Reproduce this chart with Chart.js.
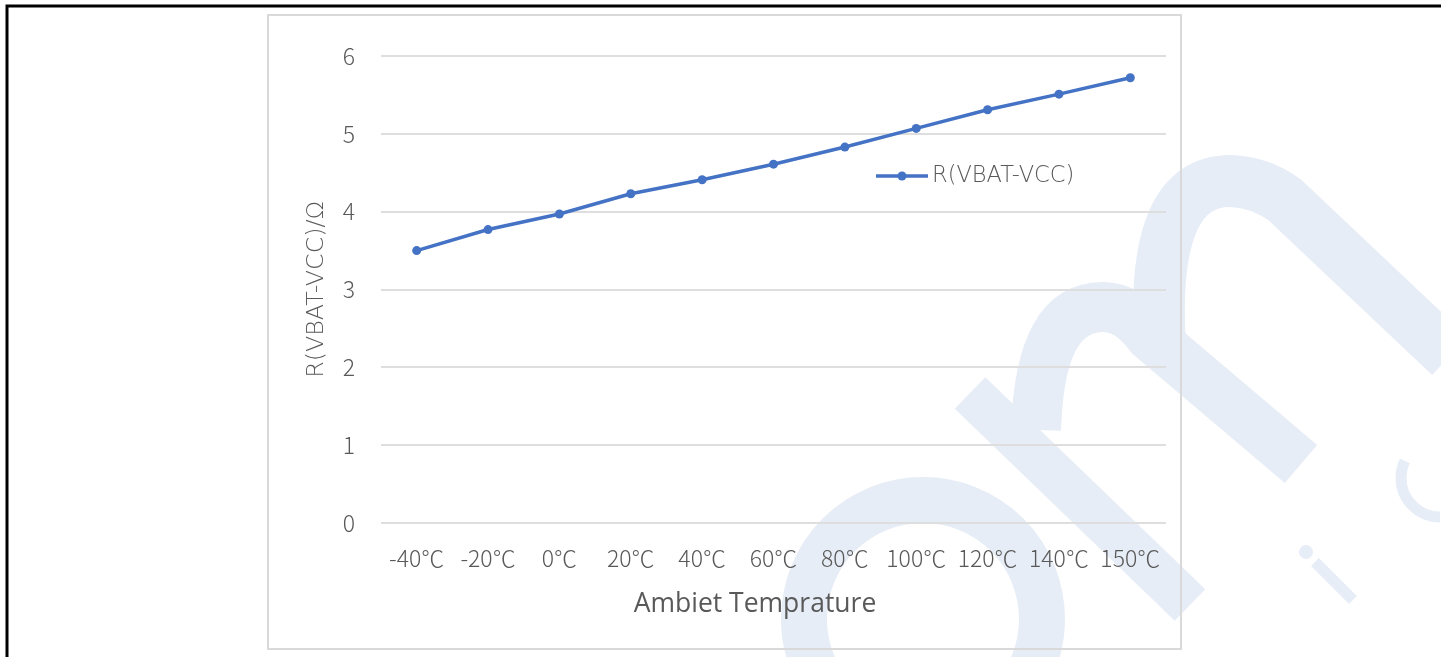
<!DOCTYPE html>
<html>
<head>
<meta charset="utf-8">
<script src="https://cdn.jsdelivr.net/npm/chart.js@4"></script>
<style>
  html, body { margin: 0; padding: 0; background: #fff; }
  canvas { display: block; }
</style>
</head>
<body>
<canvas id="chart" width="1441" height="657"></canvas>
<script>
// data
const temps = ["-40℃", "-20℃", "0℃", "20℃", "40℃", "60℃", "80℃", "100℃", "120℃", "140℃", "150℃"];
const resistance = [3.5, 3.77, 3.97, 4.23, 4.41, 4.61, 4.83, 5.07, 5.31, 5.51, 5.72];
const seriesName = "R(VBAT-VCC)";
const xTitle = "Ambiet Temprature";
const yTitle = "R(VBAT-VCC)/Ω";
const yMin = 0, yMax = 6, yStep = 1;

const tickFont = { family: "'Noto Sans CJK SC', 'Noto Sans', sans-serif", size: 23, weight: 300 };
const labelFont = "'DejaVu Sans', 'Noto Sans', sans-serif";
const gray = "#595959";
const blue = "#4472c4";
const wm = "rgb(231,237,246)";

// page background, watermark and frames
const framePlugin = {
  id: "frame",
  beforeDraw(chart) {
    const ctx = chart.ctx;
    ctx.save();
    ctx.fillStyle = "#fff";
    ctx.fillRect(0, 0, chart.width, chart.height);

    // watermark
    ctx.strokeStyle = wm;
    ctx.fillStyle = wm;
    ctx.lineCap = "butt";
    ctx.lineWidth = 46;
    ctx.beginPath();
    ctx.arc(923, 619, 119, 0, Math.PI * 2);
    ctx.stroke();

    ctx.lineWidth = 44;
    ctx.beginPath();
    ctx.moveTo(970, 393);
    ctx.lineTo(1190, 605);
    ctx.stroke();

    ctx.lineWidth = 50;
    ctx.beginPath();
    ctx.moveTo(1036, 430);
    ctx.quadraticCurveTo(1040, 305, 1104, 307);
    ctx.quadraticCurveTo(1130, 308, 1150, 336);
    ctx.lineTo(1301, 464);
    ctx.stroke();

    ctx.lineWidth = 52;
    ctx.beginPath();
    ctx.moveTo(1160, 345);
    ctx.quadraticCurveTo(1150, 180, 1231, 181);
    ctx.quadraticCurveTo(1260, 182, 1285, 200);
    ctx.lineTo(1450, 356);
    ctx.stroke();

    ctx.beginPath();
    ctx.arc(1306, 552, 7, 0, Math.PI * 2);
    ctx.fill();
    ctx.lineWidth = 11;
    ctx.beginPath();
    ctx.moveTo(1315, 562);
    ctx.lineTo(1353, 600);
    ctx.stroke();

    ctx.lineWidth = 11;
    ctx.beginPath();
    ctx.arc(1440, 478, 39, Math.PI / 2, 206 * Math.PI / 180);
    ctx.stroke();

    // chart frame
    ctx.strokeStyle = "#d9d9d9";
    ctx.lineWidth = 2;
    ctx.strokeRect(268, 15, 913, 634);

    // outer page border
    ctx.strokeStyle = "#000";
    ctx.lineWidth = 3;
    ctx.beginPath();
    ctx.moveTo(7, 700);
    ctx.lineTo(7, 6);
    ctx.lineTo(1500, 6);
    ctx.stroke();
    ctx.restore();
  },
  afterDraw(chart) {
    const ds = chart.data.datasets[0];
    const ctx = chart.ctx;
    ctx.save();
    // legend inside plot
    const y = 176;
    ctx.strokeStyle = ds.borderColor;
    ctx.lineWidth = 3.5;
    ctx.beginPath();
    ctx.moveTo(876, y);
    ctx.lineTo(928, y);
    ctx.stroke();
    ctx.fillStyle = ds.borderColor;
    ctx.beginPath();
    ctx.arc(902, y, 4.5, 0, Math.PI * 2);
    ctx.fill();
    ctx.fillStyle = gray;
    ctx.font = "200 22.5px " + labelFont;
    ctx.textBaseline = "middle";
    ctx.fillText(ds.label, 932, y);

    // x axis title (sits a little left of the plot centre, as in the source)
    ctx.font = "26.5px 'Open Sans', sans-serif";
    ctx.textAlign = "center";
    ctx.fillText(xTitle, 755, 604);
    ctx.restore();
  }
};

const ctx = document.getElementById("chart").getContext("2d");
new Chart(ctx, {
  type: "line",
  data: {
    labels: temps,
    datasets: [
      {
        label: seriesName,
        data: resistance,
        borderColor: blue,
        backgroundColor: blue,
        borderWidth: 3.5,
        pointRadius: 4.5,
        pointBorderWidth: 0,
        pointBackgroundColor: blue,
        tension: 0,
        fill: false,
      },
    ],
  },
  options: {
    responsive: false,
    animation: false,
    layout: { padding: { left: 303, right: 275, top: 56, bottom: 36 } },
    plugins: {
      legend: { display: false },
      tooltip: { enabled: false },
    },
    scales: {
      x: {
        offset: true,
        grid: { display: false, drawTicks: false },
        border: { display: false },
        ticks: { color: gray, font: tickFont, padding: 21, maxRotation: 0, autoSkip: false },
        afterFit(scale) { scale.height = 98; },
      },
      y: {
        min: yMin,
        max: yMax,
        ticks: { stepSize: yStep, color: gray, font: tickFont, padding: 26 },
        grid: { color: "#dedede", lineWidth: 2, drawTicks: false },
        border: { display: false },
        title: {
          display: true,
          text: yTitle,
          color: gray,
          font: { family: labelFont, size: 23.8, weight: 200 },
          padding: { top: 0, bottom: 0 },
        },
        afterFit(scale) { scale.width = 78; },
      },
    },
  },
  plugins: [framePlugin],
});
</script>
</body>
</html>
